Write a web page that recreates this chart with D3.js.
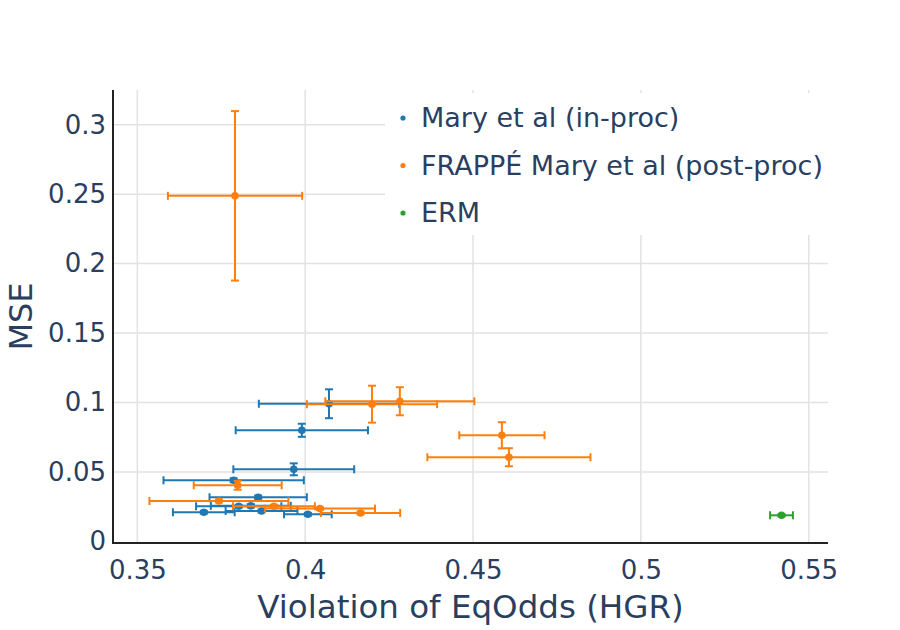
<!DOCTYPE html>
<html>
<head>
<meta charset="utf-8">
<script src="https://cdn.jsdelivr.net/npm/d3@7"></script>
<style>
  body { margin: 0; background: #fff; }
  text { font-family: "DejaVu Sans", sans-serif; fill: #2a3f5f; }
</style>
</head>
<body>
<svg id="chart" width="900" height="630"></svg>
<script>
// series: x = violation of EqOdds (HGR), y = MSE, with +/- errors
let inprocX  = [0.4071, 0.3990, 0.3966, 0.3787, 0.3860, 0.3802, 0.3838, 0.3698, 0.3870, 0.4008]
let inprocY  = [0.0991, 0.0800, 0.0519, 0.0440, 0.0318, 0.0253, 0.0256, 0.0210, 0.0219, 0.0195]
let inprocEx = [0.0209, 0.0197, 0.0180, 0.0209, 0.0145, 0.0127, 0.0119, 0.0092, 0.0107, 0.0071]
let inprocEy = [0.0104, 0.0047, 0.0043, 0.0014, 0.0012, 0.0010, 0.0012, 0.0010, 0.0010, 0.0010]

let postX  = [0.3791, 0.4199, 0.4282, 0.4586, 0.4607, 0.3799, 0.3743, 0.3907, 0.4044, 0.4165]
let postY  = [0.2488, 0.0988, 0.1009, 0.0764, 0.0606, 0.0404, 0.0291, 0.0253, 0.0236, 0.0205]
let postEx = [0.0200, 0.0194, 0.0222, 0.0127, 0.0243, 0.0131, 0.0207, 0.0122, 0.0164, 0.0118]
let postEy = [0.0610, 0.0133, 0.0101, 0.0094, 0.0065, 0.0032, 0.0010, 0.0010, 0.0010, 0.0010]

let ermX  = [0.5419]
let ermY  = [0.0188]
let ermEx = [0.0034]
let ermEy = [0.0008]

let seriesNames = ['Mary et al (in-proc)', 'FRAPPÉ Mary et al (post-proc)', 'ERM']
let seriesColors = ['#1f77b4', '#ff7f0e', '#2ca02c']
let xTicks = [0.35, 0.4, 0.45, 0.5, 0.55]
let yTicks = [0, 0.05, 0.1, 0.15, 0.2, 0.25, 0.3]

let svg = d3.select('#chart')
let pl = 113, pr = 828, pt = 90, pb = 543

let x = d3.scaleLinear().domain([0.34275, 0.55575]).range([pl, pr])
let y = d3.scaleLinear().domain([-0.00115, 0.325]).range([pb, pt])

// grid
svg.append('g').selectAll('line').data(xTicks).join('line')
  .attr('x1', d => x(d)).attr('x2', d => x(d))
  .attr('y1', pt).attr('y2', pb)
  .style('stroke', '#e2e2e2').style('stroke-width', 1.5)
svg.append('g').selectAll('line').data(yTicks.filter(d => d > 0)).join('line')
  .attr('x1', pl).attr('x2', pr)
  .attr('y1', d => y(d)).attr('y2', d => y(d))
  .style('stroke', '#e2e2e2').style('stroke-width', 1.5)

// axes (labels only, plotly style)
let xAxis = svg.append('g').attr('transform', `translate(0,${pb})`)
  .call(d3.axisBottom(x).tickValues(xTicks).tickSize(0).tickPadding(13).tickFormat(d3.format('~g')))
let yAxis = svg.append('g').attr('transform', `translate(${pl},0)`)
  .call(d3.axisLeft(y).tickValues(yTicks).tickSize(0).tickPadding(7).tickFormat(d3.format('~g')))
xAxis.select('.domain').remove()
yAxis.select('.domain').remove()
svg.selectAll('.tick text').style('font-size', '26px').style('font-family', '"DejaVu Sans", sans-serif').attr('fill', '#2a3f5f')
xAxis.selectAll('.tick text').attr('dy', '0.9em')

svg.append('line').attr('x1', pl).attr('x2', pl).attr('y1', pt).attr('y2', pb + 1)
  .style('stroke', '#222').style('stroke-width', 2)
svg.append('line').attr('x1', pl - 1).attr('x2', pr).attr('y1', pb).attr('y2', pb)
  .style('stroke', '#222').style('stroke-width', 2)

// axis titles
svg.append('text').attr('x', (pl + pr) / 2).attr('y', 618)
  .attr('text-anchor', 'middle').style('font-size', '32.5px')
  .text('Violation of EqOdds (HGR)')
svg.append('text').attr('transform', `translate(32,${(pt + pb) / 2}) rotate(-90)`)
  .attr('text-anchor', 'middle').style('font-size', '32px')
  .text('MSE')

// error bars + markers
function drawSeries(xs, ys, exs, eys, color) {
  let g = svg.append('g')
  let cap = 4
  xs.forEach((xv, i) => {
    let cx = x(xv), cy = y(ys[i])
    let x0 = x(xv - exs[i]), x1 = x(xv + exs[i])
    let y0 = y(ys[i] - eys[i]), y1 = y(ys[i] + eys[i])
    g.append('line').attr('x1', x0).attr('x2', x1).attr('y1', cy).attr('y2', cy)
      .style('stroke', color).style('stroke-width', 2)
    g.append('line').attr('x1', x0).attr('x2', x0).attr('y1', cy - cap).attr('y2', cy + cap)
      .style('stroke', color).style('stroke-width', 2)
    g.append('line').attr('x1', x1).attr('x2', x1).attr('y1', cy - cap).attr('y2', cy + cap)
      .style('stroke', color).style('stroke-width', 2)
    g.append('line').attr('x1', cx).attr('x2', cx).attr('y1', y0).attr('y2', y1)
      .style('stroke', color).style('stroke-width', 2)
    g.append('line').attr('x1', cx - cap).attr('x2', cx + cap).attr('y1', y0).attr('y2', y0)
      .style('stroke', color).style('stroke-width', 2)
    g.append('line').attr('x1', cx - cap).attr('x2', cx + cap).attr('y1', y1).attr('y2', y1)
      .style('stroke', color).style('stroke-width', 2)
  })
  g.selectAll('circle').data(xs).join('circle')
    .attr('cx', d => x(d)).attr('cy', (d, i) => y(ys[i])).attr('r', 3.8)
    .style('fill', color)
}
drawSeries(inprocX, inprocY, inprocEx, inprocEy, seriesColors[0])
drawSeries(postX, postY, postEx, postEy, seriesColors[1])
drawSeries(ermX, ermY, ermEx, ermEy, seriesColors[2])

// legend
let legend = svg.append('g')
legend.append('rect').attr('x', 385).attr('y', 93).attr('width', 452).attr('height', 142)
  .style('fill', '#fff')
seriesNames.forEach((name, i) => {
  let ly = 118 + i * 47.5
  legend.append('circle').attr('cx', 403).attr('cy', ly).attr('r', 2.6).style('fill', seriesColors[i])
  legend.append('text').attr('x', 421).attr('y', ly).attr('dy', '0.35em')
    .style('font-size', '27px').text(name)
})
</script>
</body>
</html>
